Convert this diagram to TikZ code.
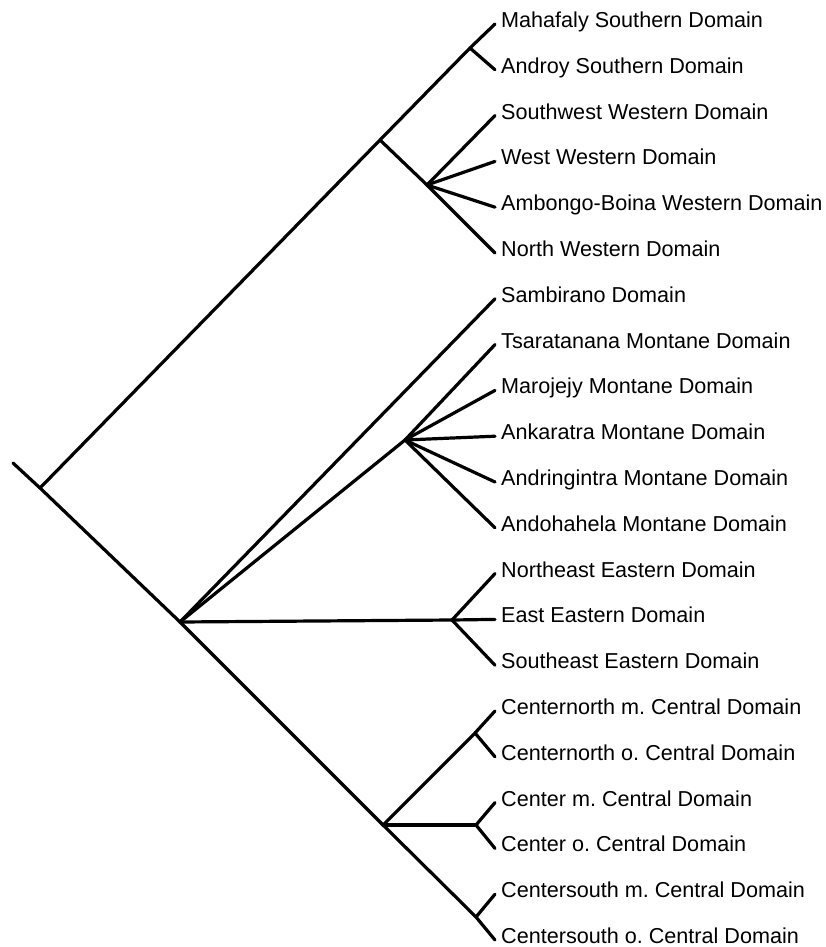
\documentclass[tikz,border=0pt]{standalone}
\usepackage{fontspec}
\setmainfont{Liberation Sans}
\frenchspacing
\begin{document}
\begin{tikzpicture}[x=1pt,y=-1pt,
  branch/.style={line width=3.2pt,line cap=round,line join=round},
  leaf/.style={anchor=base west,inner sep=0pt,font=\fontsize{21.6}{24}\selectfont}]
\useasboundingbox (0,0) rectangle (825,947);
\foreach \i/\t in {0/Mahafaly Southern Domain,1/Androy Southern Domain,2/Southwest Western Domain,3/West Western Domain,4/Ambongo-Boina Western Domain,5/North Western Domain,6/Sambirano Domain,7/Tsaratanana Montane Domain,8/Marojejy Montane Domain,9/Ankaratra Montane Domain,10/Andringintra Montane Domain,11/Andohahela Montane Domain,12/Northeast Eastern Domain,13/East Eastern Domain,14/Southeast Eastern Domain,15/Centernorth m. Central Domain,16/Centernorth o. Central Domain,17/Center m. Central Domain,18/Center o. Central Domain,19/Centersouth m. Central Domain,20/Centersouth o. Central Domain}{
  \coordinate (t\i) at (495,{24+45.8*\i});
  \node[leaf] (l\i) at ([shift={(6pt,-3.5pt)}]t\i) {\frenchspacing\t};
}
\coordinate (r0) at (13,463);
\coordinate (nA) at (40,488);
\coordinate (nW) at (380,140);
\coordinate (nS) at (470,48);
\coordinate (nWn) at (427,185);
\coordinate (nB) at (180,622);
\coordinate (nM) at (405,440);
\coordinate (nE) at (452,620);
\coordinate (nC) at (383,825);
\coordinate (nCn) at (475,733);
\coordinate (nCc) at (476,825);
\coordinate (nD) at (476,917);
\draw[branch] (r0) -- (nA) -- (nB) -- (nC) -- (nD) -- (t20);
\draw[branch] (nA) -- (nW) -- (nS) -- (t0);
\draw[branch] (nS) -- (t1);
\draw[branch] (nW) -- (nWn) -- (t5);
\foreach \k in {2,3,4} \draw[branch] (nWn) -- (t\k);
\draw[branch] (nB) -- (t6);
\draw[branch] (nB) -- (nM);
\foreach \k in {7,8,9,10,11} \draw[branch] (nM) -- (t\k);
\draw[branch] (nB) -- (nE);
\foreach \k in {12,13,14} \draw[branch] (nE) -- (t\k);
\draw[branch] (nC) -- (nCn) -- (t15);
\draw[branch] (nCn) -- (t16);
\draw[branch] (nC) -- (nCc);
\foreach \k in {17,18} \draw[branch] (nCc) -- (t\k);
\draw[branch] (nD) -- (t19);
\end{tikzpicture}
\end{document}
